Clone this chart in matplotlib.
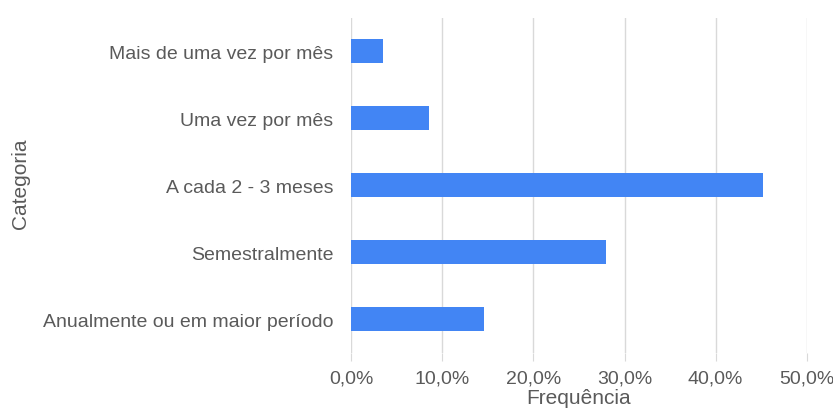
import matplotlib
matplotlib.use("Agg")
import matplotlib.pyplot as plt
from matplotlib.ticker import FuncFormatter

categories = ["Mais de uma vez por mês", "Uma vez por mês", "A cada 2 - 3 meses",
              "Semestralmente", "Anualmente ou em maior período"]
values = [3.5, 8.5, 45.2, 28.0, 14.6]
xticks = [0, 10, 20, 30, 40, 50]

plt.rcParams['font.family'] = ['Liberation Sans', 'DejaVu Sans']

fig = plt.figure(figsize=(8.33, 4.14), dpi=100)
ax = fig.add_axes([0.4217, 0.146, 0.9684 - 0.4217, 0.955 - 0.146])

ypos = list(range(len(categories)))
ax.barh(ypos, values, height=0.35, color="#4285F4", zorder=3)
ax.set_yticks(ypos)
ax.set_yticklabels(categories)
ax.set_ylim(len(categories) - 0.5, -0.5)
ax.set_xlim(0, 50)
ax.set_xticks(xticks)
ax.xaxis.set_major_formatter(FuncFormatter(lambda v, p: f"{v:.1f}%".replace(".", ",")))

ax.grid(axis="x", color="#d9d9d9", linewidth=1, zorder=0)
for s in ax.spines.values():
    s.set_visible(False)
ax.tick_params(axis="y", length=0, pad=13, labelsize=14, labelcolor="#5a5a5a")
ax.tick_params(axis="x", length=6, color="#d9d9d9", pad=6, labelsize=14, labelcolor="#5a5a5a")

ax.set_xlabel("Frequência", fontsize=15, color="#5a5a5a", labelpad=1)
fig.text(21/833, 1 - 184/414, "Categoria", rotation=90, ha="center", va="center",
         fontsize=15, color="#5a5a5a")

fig.savefig("out.png", dpi=100)
